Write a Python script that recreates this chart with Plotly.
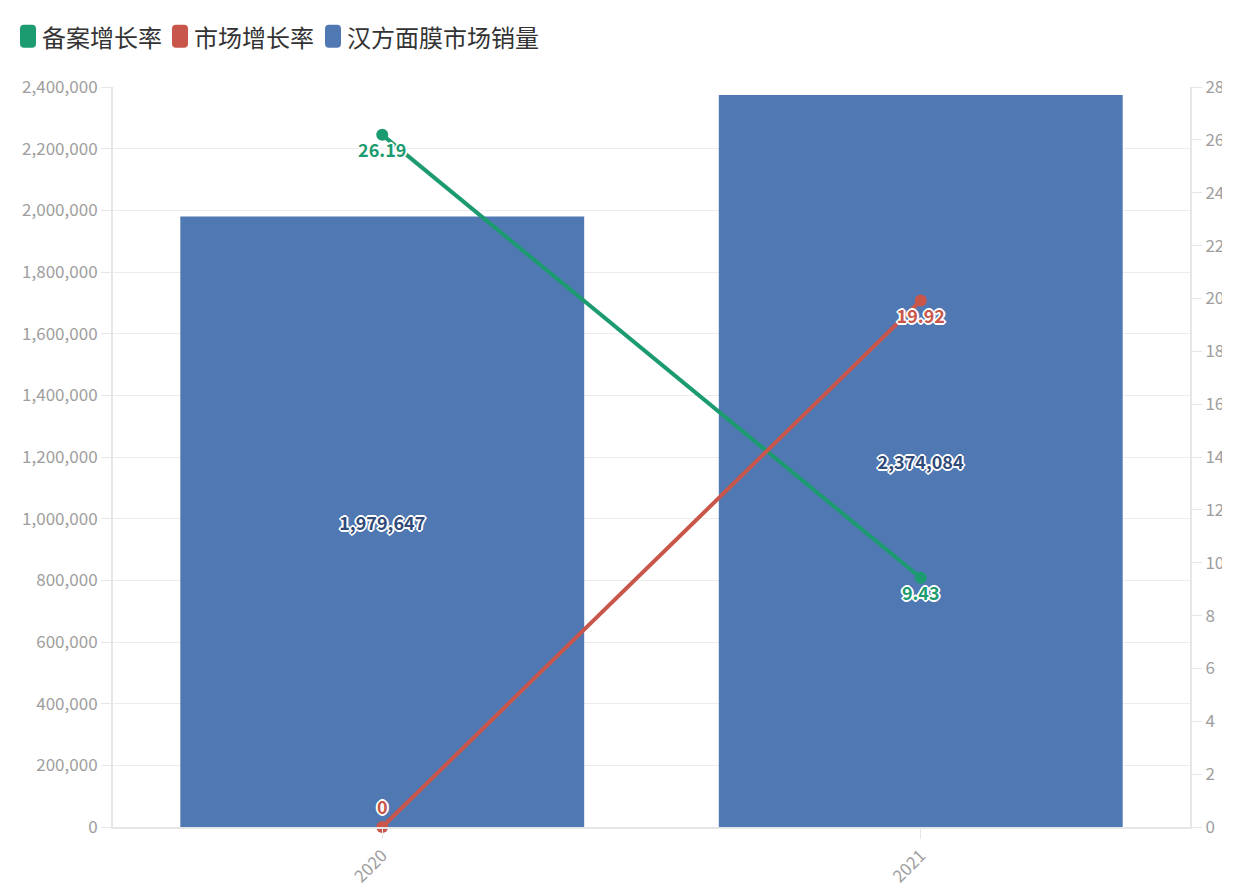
import plotly.graph_objects as go

categories = ["2020", "2021"]
sales = [1979647, 2374084]
filing_growth = [26.19, 9.43]
market_growth = [0, 19.92]

names = ["备案增长率", "市场增长率", "汉方面膜市场销量"]
GREEN = "#1d9b70"
RED = "#c9564a"
BLUE = "#5078b3"
FONT = "Noto Sans CJK SC, Noto Sans, sans-serif"
OUTLINE = ("-1px -1px 0 #fff, 1px -1px 0 #fff, -1px 1px 0 #fff, 1px 1px 0 #fff, "
           "0 2px 0 #fff, 0 -2px 0 #fff, 2px 0 0 #fff, -2px 0 0 #fff")

W, H = 1214, 891
ML, MR, MT, MB = 105, 32, 79, 69
PW = W - ML - MR
PH = H - MT - MB

fig = go.Figure()

fig.add_trace(go.Bar(
    x=categories, y=sales, name=names[2], marker=dict(color=BLUE, line=dict(width=0)),
    text=[f"{v:,}" for v in sales], textposition="inside", insidetextanchor="middle",
    textfont=dict(color="#2f4a78", size=18, family=FONT, weight="bold", shadow=OUTLINE),
    showlegend=False, yaxis="y",
))

fig.add_trace(go.Scatter(
    x=categories, y=filing_growth, name=names[0], mode="lines+markers+text",
    line=dict(color=GREEN, width=4), marker=dict(color=GREEN, size=12),
    text=[f"{v:g}" for v in filing_growth], textposition=["bottom center", "bottom center"],
    textfont=dict(color=GREEN, size=18, family=FONT, weight="bold", shadow=OUTLINE),
    cliponaxis=False, showlegend=False, yaxis="y2",
))

fig.add_trace(go.Scatter(
    x=categories, y=market_growth, name=names[1], mode="lines+markers+text",
    line=dict(color=RED, width=4), marker=dict(color=RED, size=12),
    text=[f"{v:g}" for v in market_growth], textposition=["top center", "bottom center"],
    textfont=dict(color=RED, size=18, family=FONT, weight="bold", shadow=OUTLINE),
    cliponaxis=False, showlegend=False, yaxis="y2",
))

# manual legend (pixel positions within figure)
legend_items = [(names[0], GREEN, 12), (names[1], RED, 164), (names[2], BLUE, 317)]
for nm, col, px in legend_items:
    ycen = (H - MB - 28) / PH
    w, h, r = 16, 23, 4
    path = (f"M {-w/2+r},{-h/2} L {w/2-r},{-h/2} Q {w/2},{-h/2} {w/2},{-h/2+r} "
            f"L {w/2},{h/2-r} Q {w/2},{h/2} {w/2-r},{h/2} L {-w/2+r},{h/2} "
            f"Q {-w/2},{h/2} {-w/2},{h/2-r} L {-w/2},{-h/2+r} Q {-w/2},{-h/2} {-w/2+r},{-h/2} Z")
    fig.add_shape(type="path", xref="paper", yref="paper",
                  xsizemode="pixel", ysizemode="pixel",
                  xanchor=(px + 8 - ML) / PW, yanchor=ycen,
                  path=path, fillcolor=col, line=dict(width=0), layer="above")
    fig.add_annotation(text=nm, xref="paper", yref="paper",
                       x=(px + 20 - ML) / PW, y=ycen, xanchor="left", yanchor="middle",
                       showarrow=False, font=dict(size=24, color="#333333", family=FONT))

axis_common = dict(
    showgrid=True, gridcolor="#ececec", gridwidth=1,
    showline=True, linecolor="#e6e6e6", linewidth=2,
    ticks="outside", ticklen=10, tickcolor="#e6e6e6",
    tickfont=dict(color="#9e9e9e", size=17, family=FONT),
    zeroline=False,
)

fig.update_layout(
    width=W, height=H,
    margin=dict(l=ML, r=MR, t=MT, b=MB),
    paper_bgcolor="white", plot_bgcolor="white",
    font=dict(family=FONT),
    bargap=0.25,
    showlegend=False,
    xaxis=dict(type="category", tickangle=-45, showgrid=False,
               showline=True, linecolor="#e6e6e6", linewidth=2,
               ticks="outside", ticklen=10, tickcolor="#e6e6e6",
               tickfont=dict(color="#9e9e9e", size=17, family=FONT)),
    yaxis=dict(range=[0, 2400000], dtick=200000, tickformat=",", automargin=False, **axis_common),
    yaxis2=dict(range=[0, 28], dtick=2, overlaying="y", side="right",
                automargin=False, **{**axis_common, "showgrid": False}),
)

fig.write_html("out.html")
